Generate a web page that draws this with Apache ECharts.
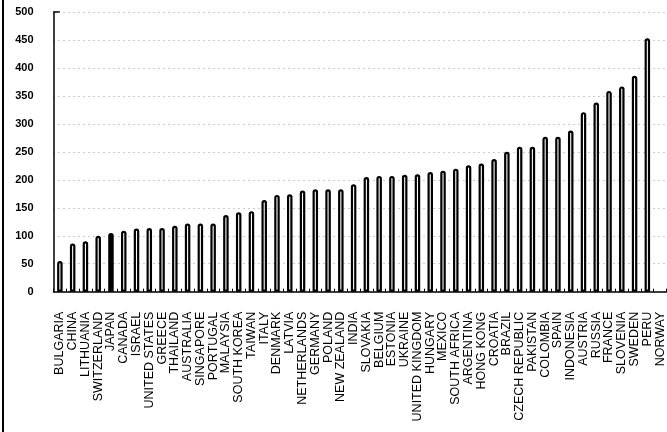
<!DOCTYPE html>
<html>
<head>
<meta charset="utf-8">
<script src="https://cdn.jsdelivr.net/npm/echarts@6/dist/echarts.min.js"></script>
<style>
html,body{margin:0;padding:0;background:#fff;}
#chart{width:667px;height:432px;}
</style>
</head>
<body>
<div id="chart"></div>
<script>
const countries = ["BULGARIA","CHINA","LITHUANIA","SWITZERLAND","JAPAN","CANADA","ISRAEL","UNITED STATES","GREECE","THAILAND","AUSTRALIA","SINGAPORE","PORTUGAL","MALAYSIA","SOUTH KOREA","TAIWAN","ITALY","DENMARK","LATVIA","NETHERLANDS","GERMANY","POLAND","NEW ZEALAND","INDIA","SLOVAKIA","BELGIUM","ESTONIA","UKRAINE","UNITED KINGDOM","HUNGARY","MEXICO","SOUTH AFRICA","ARGENTINA","HONG KONG","CROATIA","BRAZIL","CZECH REPUBLIC","PAKISTAN","COLOMBIA","SPAIN","INDONESIA","AUSTRIA","RUSSIA","FRANCE","SLOVENIA","SWEDEN","PERU","NORWAY"];
const values = [55,86,90,100,105,109,113,114,114,118,122,122,122,137,142,144,164,173,174,181,183,183,183,192,205,207,207,209,210,214,216,220,226,229,237,250,259,259,277,277,288,321,338,359,367,386,453,null];
const highlighted = ["JAPAN"];
const yTicks = [0,50,100,150,200,250,300,350,400,450,500];

const chart = echarts.init(document.getElementById('chart'), null, {renderer:'canvas'});
const data = values.map((v,i)=>({
  value: v,
  itemStyle: highlighted.includes(countries[i]) ? {color:'#000'} : undefined
}));
chart.setOption({
  animation:false,
  backgroundColor:'#fff',
  textStyle:{fontFamily:'Liberation Sans, Arial, sans-serif'},
  grid:{left:53.5,right:0.5,top:12,bottom:140.3,containLabel:false},
  xAxis:{
    type:'category',
    data:countries,
    boundaryGap:true,
    axisLine:{lineStyle:{color:'#000',width:1.5}},
    axisTick:{show:true,inside:true,length:3,lineStyle:{color:'#000'}},
    axisLabel:{rotate:90,interval:0,margin:20,fontSize:12.5,color:'#000',fontFamily:'Liberation Sans, Arial, sans-serif'}
  },
  yAxis:{
    type:'value',
    min:yTicks[0],max:yTicks[yTicks.length-1],interval:50,
    axisLine:{show:true,lineStyle:{color:'#000',width:1.5}},
    axisTick:{show:false},
    axisLabel:{margin:20,fontSize:11,fontWeight:'bold',color:'#000',fontFamily:'Liberation Sans, Arial, sans-serif'},
    splitLine:{show:true,lineStyle:{color:'#999',type:[1,4],width:1}}
  },
  series:[{
    type:'bar',
    data:data,
    barWidth:5.5,
    itemStyle:{color:'#fff',borderColor:'#000',borderWidth:2.2,borderRadius:[2,2,0,0]}
  }],
  graphic:[
    {type:'line',shape:{x1:3,y1:0,x2:3,y2:432},style:{stroke:'#000',lineWidth:2}},
    {type:'line',shape:{x1:53.5,y1:12,x2:60,y2:12},style:{stroke:'#000',lineWidth:1.5}}
  ]
});
</script>
</body>
</html>
